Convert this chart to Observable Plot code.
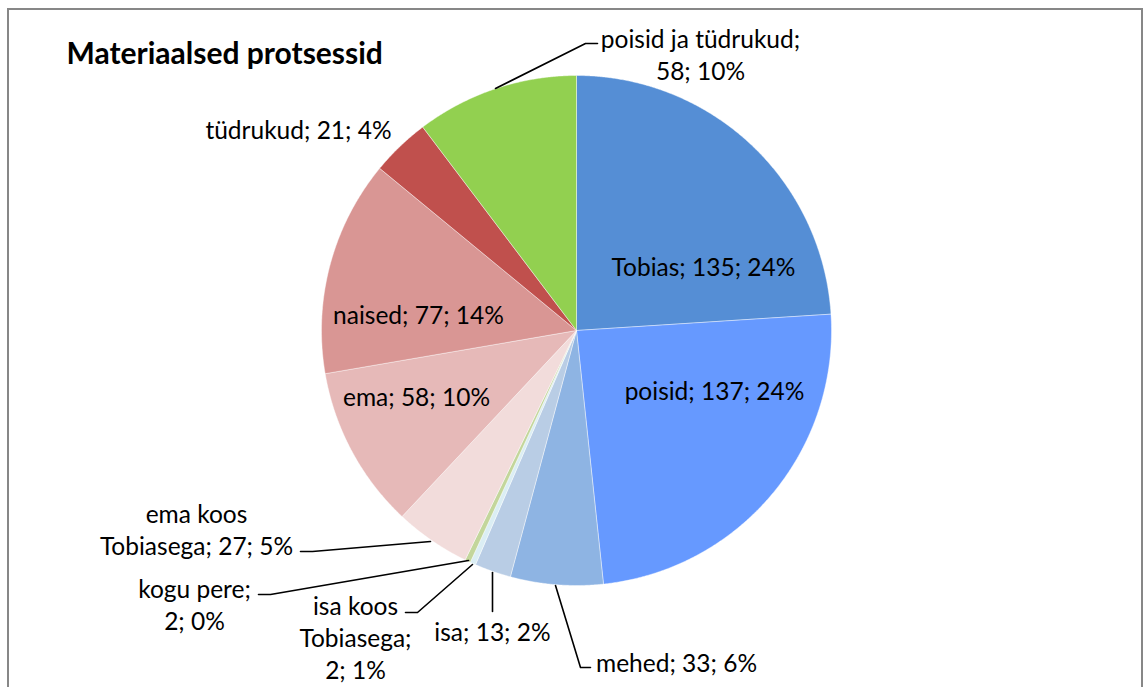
<!DOCTYPE html>
<html><head><meta charset="utf-8">
<script src="https://cdn.jsdelivr.net/npm/d3@7"></script>
<script src="https://cdn.jsdelivr.net/npm/@observablehq/plot@0.6"></script>
<style>body{margin:0;background:#fff;} #chart svg{display:block;}</style>
</head><body><div id="chart"></div>
<script>
// ---- data ----
const title = "Materiaalsed protsessid";
const categories = ["Tobias","poisid","mehed","isa","isa koos Tobiasega","kogu pere","ema koos Tobiasega","ema","naised","tüdrukud","poisid ja tüdrukud"];
const values = [135,137,33,13,2,2,27,58,77,21,58];
const percents = ["24%","24%","6%","2%","1%","0%","5%","10%","14%","4%","10%"];
const colors = ["#558ED5","#6699FF","#8EB4E3","#B9CDE5","#DBEEF4","#C3D69B","#F2DCDB","#E6B9B8","#D99694","#C0504D","#92D050"];

// ---- layout ----
const W = 1144, H = 687;
const cx = 576, cy = 330, R = 255;
// words per line for wrapped labels
const labelWrap = [null,null,null,null,[2,1,2],[2,2],[2,3],null,null,null,[3,2]];
// label centres (px)
const labelX = [703,714,676,492,355,194,196,416,418,298,700];
const labelY = [265,389,661,630,636,603,528,395,313,128,53];
const leaders = [
  null,null,
  [[555,585],[580,667],[590,667]],
  [[492,572],[492,611]],
  [[472,564],[417,612],[405,612]],
  [[468,560],[270,594],[258,594]],
  [[430,541],[312,551],[300,551]],
  null,null,null,
  [[495,88],[585,43],[597,43]]
];

const total = d3.sum(values);
const slicePts = [];
let cum = 0;
values.forEach((v, i) => {
  const a0 = cum / total * 2 * Math.PI;
  cum += v;
  const a1 = cum / total * 2 * Math.PI;
  const n = Math.max(2, Math.ceil((a1 - a0) / 0.005));
  slicePts.push({k: i, x: cx, y: cy, c: colors[i]});
  for (let j = 0; j <= n; j++) {
    const a = a0 + (a1 - a0) * j / n;
    slicePts.push({k: i, x: cx + R * Math.sin(a), y: cy - R * Math.cos(a), c: colors[i]});
  }
  slicePts.push({k: i, x: cx, y: cy, c: colors[i]});
});

function wrapText(s, spec) {
  if (!spec) return s;
  const w = s.split(" ");
  const lines = []; let p = 0;
  for (const n of spec) { lines.push(w.slice(p, p + n).join(" ")); p += n; }
  return lines.join("\n");
}
const labels = categories.map((c, i) => ({
  text: wrapText(`${c}; ${values[i]}; ${percents[i]}`, labelWrap[i]),
  x: labelX[i], y: labelY[i]
}));
const leaderPts = [];
leaders.forEach((L, i) => { if (L) L.forEach(([x, y]) => leaderPts.push({k: i, x, y})); });

const plot = Plot.plot({
  width: W, height: H, margin: 0,
  style: {fontFamily: "Lato, 'Open Sans', sans-serif", background: "white"},
  x: {domain: [0, W], range: [0, W], axis: null},
  y: {domain: [0, H], range: [0, H], axis: null},
  color: {type: "identity"},
  marks: [
    Plot.rect([{x1: 8, x2: 1142, y1: 9, y2: 720}], {x1: "x1", x2: "x2", y1: "y1", y2: "y2", fill: "none", stroke: "#878787", strokeWidth: 2}),
    Plot.line(slicePts, {x: "x", y: "y", z: "k", fill: "c", stroke: "white", strokeWidth: 0.6, strokeOpacity: 0.7, curve: "linear"}),
    Plot.line(leaderPts, {x: "x", y: "y", z: "k", stroke: "black", strokeWidth: 1.6, curve: "linear"}),
    Plot.text(labels, {x: "x", y: "y", text: "text", fontSize: 24.5, fill: "black", lineHeight: 1.3, textAnchor: "middle"}),
    Plot.text([title], {x: () => 66, y: () => 54, text: d => d, textAnchor: "start", fontSize: 30, fontWeight: "bold", fill: "black"})
  ]
});
document.getElementById("chart").appendChild(plot);
</script>
</body></html>
